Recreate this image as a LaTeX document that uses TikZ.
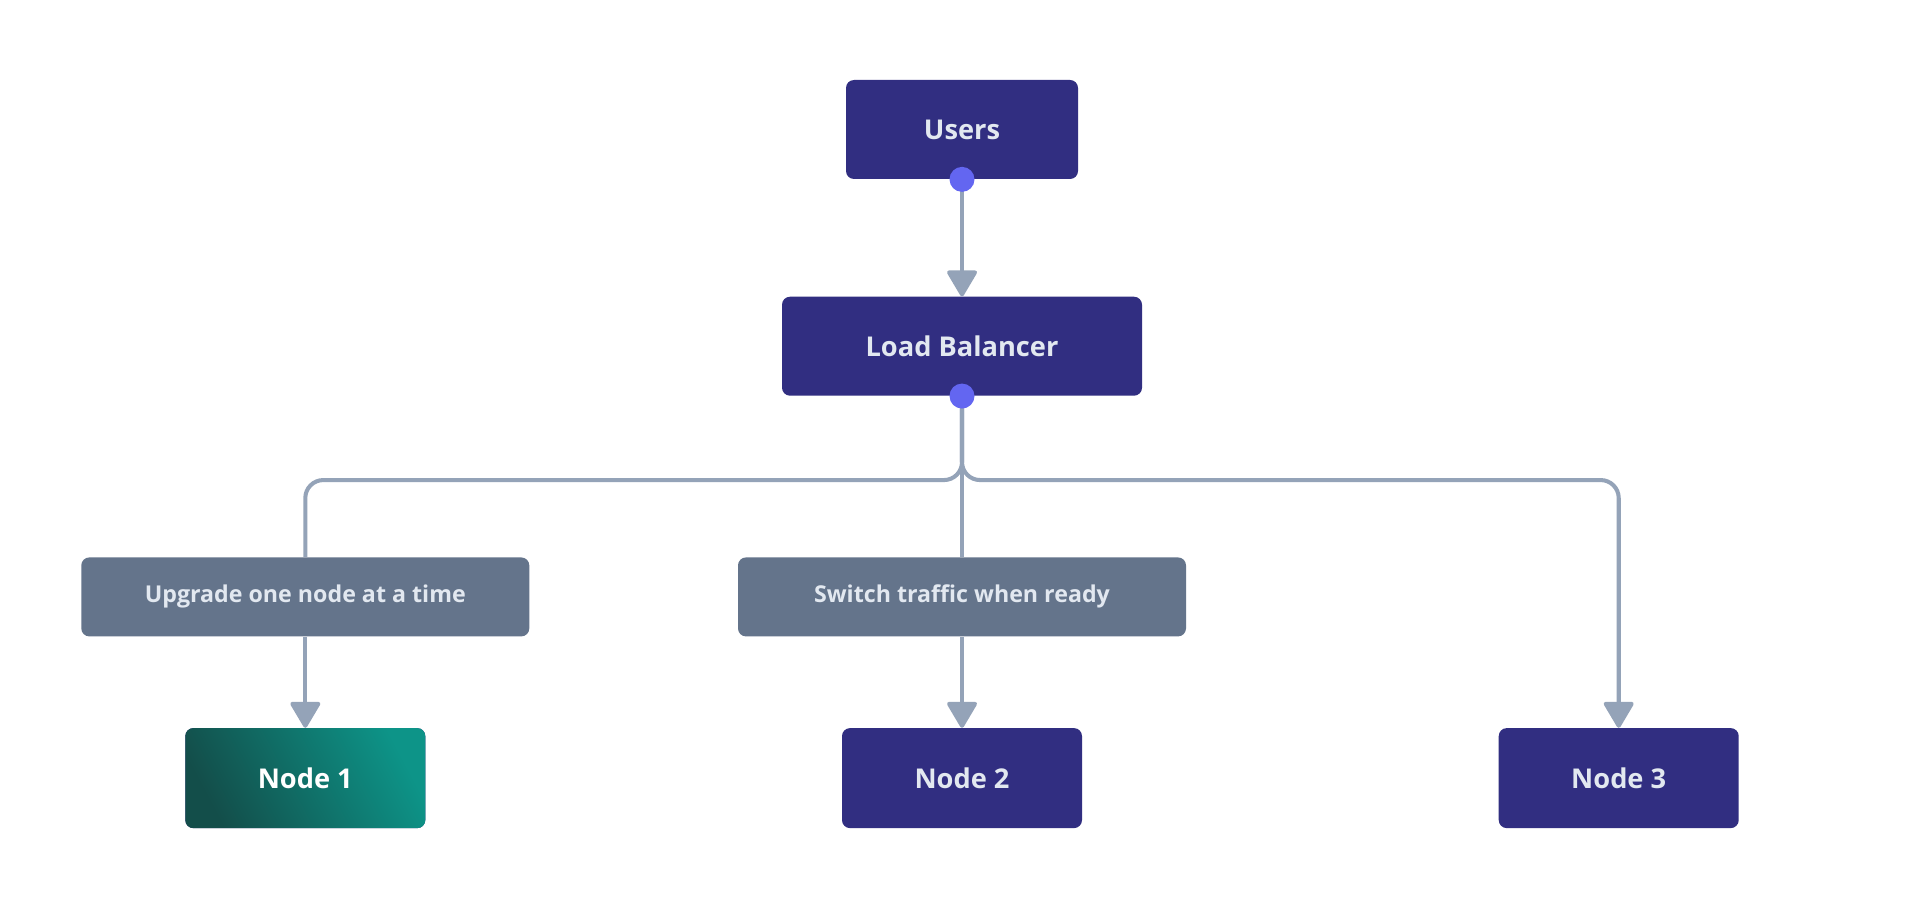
\documentclass[tikz,border=0pt]{standalone}
\usepackage{fontspec}
\setmainfont{Open Sans}
\usetikzlibrary{positioning,arrows.meta}
\definecolor{navy}{HTML}{312E81}
\definecolor{slatebox}{HTML}{64748B}
\definecolor{linegray}{HTML}{94A3B8}
\definecolor{portblue}{HTML}{6366F1}
\definecolor{lighttext}{HTML}{E2E8F0}
\definecolor{tealdark}{HTML}{134E4A}
\definecolor{teallight}{HTML}{0D9488}
\tikzset{line/.style={draw=linegray, line width=2.3pt, -{Triangle[width=0.64cm,length=0.56cm,round]}}}
\tikzset{plain/.style={draw=linegray, line width=2.3pt}}

\begin{document}
\begin{tikzpicture}[node distance = 1cm, auto]
\tikzstyle{block} = [rectangle, rounded corners=0.16cm, fill=navy, text=lighttext, font=\bfseries\fontsize{15.5}{18}\selectfont, minimum height=1.98cm]
\tikzstyle{note} = [rectangle, rounded corners=0.16cm, fill=slatebox, text=lighttext, font=\bfseries\fontsize{13.2}{15}\selectfont, minimum height=1.58cm, minimum width=8.96cm]
\tikzstyle{server} = [block, minimum width=4.8cm, minimum height=2cm]
\tikzstyle{dot} = [circle, fill=portblue, inner sep=0pt, minimum size=0.5cm]

\useasboundingbox [fill=white] (0,0) rectangle (38.4,-18.16);

\node [block, minimum width=4.64cm](users) at (19.24,-2.59){Users};
\node [block, below=2.34cm of users, minimum width=7.2cm](lb){Load Balancer};
\node [note, below=3.22cm of lb](switch){Switch traffic when ready};
\node [note, left=4.16cm of switch](upgrade){Upgrade one node at a time};
\node [server, below=1.82cm of switch](n2){Node 2};
\node [server, below=1.82cm of upgrade, top color=teallight, bottom color=tealdark, shading angle=-62, text=white](n1){Node 1};
\node [server, right=8.32cm of n2](n3){Node 3};
\coordinate [below=1.68cm of lb.south](split);

\path [line] (users) -- (lb);
\path [plain, rounded corners=0.36cm] (lb.south) -- (split) -| (upgrade.north);
\path [line, rounded corners=0.36cm] (lb.south) -- (split) -| (n3.north);
\path [plain] (lb.south) -- (switch.north);
\path [line] (upgrade) -- (n1);
\path [line] (switch) -- (n2);

\node [dot] (usersport) at (users.south) {};
\node [dot] (lbport) at (lb.south) {};

\end{tikzpicture}
\end{document}
